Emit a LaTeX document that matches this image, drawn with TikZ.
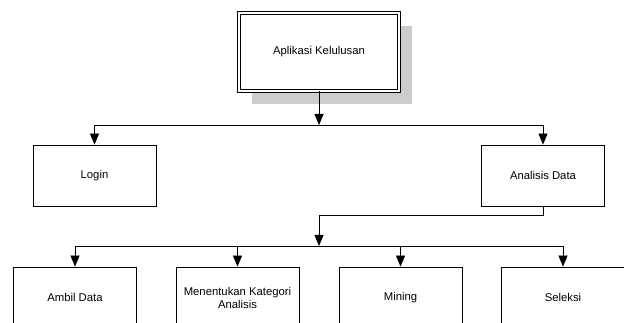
\documentclass[tikz,border=0pt]{standalone}
\usepackage{fontspec}
\setmainfont{Liberation Sans}
\usetikzlibrary{arrows.meta,shadows}

\begin{document}
\begin{tikzpicture}[x=1pt,y=-1pt]
\tikzset{
  kotak/.style={draw=black, fill=white, line width=0.8pt, minimum width=123pt, minimum height=61pt,
    align=center, inner sep=2pt, font=\fontsize{11.3}{13}\selectfont},
  panah/.style={draw=black, line width=0.8pt, -{Triangle[length=11pt,width=9pt]}},
  garis/.style={draw=black, line width=0.8pt}
}
\useasboundingbox (0,0) rectangle (624,323);
\clip (0,0) rectangle (624,323);
% kotak utama
\node[kotak, double, double distance=1.5pt, minimum width=160pt, minimum height=78pt,
  drop shadow={shadow xshift=13pt, shadow yshift=-13pt, fill=black!20, opacity=1}]
  (app) at (319,52) {Aplikasi Kelulusan};
% tingkat kedua
\node[kotak] (login) at (94.5,175.5) {Login};
\node[kotak] (analisis) at (543,175.5) {Analisis Data};
% tingkat ketiga
\node[kotak] (ambil) at (75,297.5) {Ambil Data};
\node[kotak] (kategori) at (237.5,297.5) {Menentukan Kategori\\Analisis};
\node[kotak] (mining) at (400.5,297.5) {Mining};
\node[kotak] (seleksi) at (563,297.5) {Seleksi};
% garis penghubung
\coordinate (bus1) at (319,125);
\coordinate (belok) at (319,215);
\coordinate (bus2) at (319,246);
\draw[panah] (app.south) -- (bus1);
\draw[garis] (login.north |- bus1) -- (analisis.north |- bus1);
\draw[panah] (login.north |- bus1) -- (login.north);
\draw[panah] (analisis.north |- bus1) -- (analisis.north);
\draw[panah] (analisis.south) -- (analisis.south |- belok) -- (belok) -- (bus2);
\draw[garis] (ambil.north |- bus2) -- (seleksi.north |- bus2);
\draw[panah] (ambil.north |- bus2) -- (ambil.north);
\draw[panah] (kategori.north |- bus2) -- (kategori.north);
\draw[panah] (mining.north |- bus2) -- (mining.north);
\draw[panah] (seleksi.north |- bus2) -- (seleksi.north);
\end{tikzpicture}
\end{document}
